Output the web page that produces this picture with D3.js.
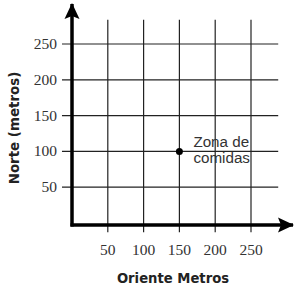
<!DOCTYPE html>
<html>
<head>
<meta charset="utf-8">
<script src="https://cdn.jsdelivr.net/npm/d3@7"></script>
<style>
  body { margin: 0; background: #fff; }
  svg { display: block; }
</style>
</head>
<body>
<div id="chart"></div>
<script>
const width = 294
const height = 288

const xTicks = [50, 100, 150, 200, 250]
const yTicks = [50, 100, 150, 200, 250]
const points = [{x: 150, y: 100, label: ['Zona de', 'comidas']}]
const xTitle = 'Oriente Metros'
const yTitle = 'Norte (metros)'

const x = d3.scaleLinear().domain([0, 250]).range([72, 251])
const y = d3.scaleLinear().domain([0, 250]).range([223, 44])

const svg = d3.select('#chart').append('svg')
  .attr('width', width)
  .attr('height', height)

// grid lines
svg.selectAll('.hgrid')
  .data(yTicks)
  .enter().append('line')
  .attr('x1', x(-14)).attr('x2', x(288))
  .attr('y1', d => y(d)).attr('y2', d => y(d))
  .attr('stroke', '#222').attr('stroke-width', 1.2)

svg.selectAll('.vgrid')
  .data(xTicks)
  .enter().append('line')
  .attr('x1', d => x(d)).attr('x2', d => x(d))
  .attr('y1', y(-13)).attr('y2', y(284))
  .attr('stroke', '#222').attr('stroke-width', 1.2)

// axes with arrows
svg.append('defs').append('marker')
  .attr('id', 'arrow')
  .attr('viewBox', '0 0 16 16')
  .attr('refX', 15).attr('refY', 8)
  .attr('markerUnits', 'userSpaceOnUse')
  .attr('markerWidth', 16).attr('markerHeight', 16)
  .attr('orient', 'auto')
  .append('path')
  .attr('d', 'M0,0.5 L16,8 L0,15.5 L3,8 Z')
  .attr('fill', '#000')

svg.append('line')
  .attr('x1', x(0) - 1.5).attr('x2', 293)
  .attr('y1', y(0) + 2).attr('y2', y(0) + 2)
  .attr('stroke', '#000').attr('stroke-width', 3.5)
  .attr('marker-end', 'url(#arrow)')

svg.append('line')
  .attr('x1', x(0)).attr('x2', x(0))
  .attr('y1', y(0) + 3.5).attr('y2', 4)
  .attr('stroke', '#000').attr('stroke-width', 3.5)
  .attr('marker-end', 'url(#arrow)')

// tick labels
svg.selectAll('.ylab')
  .data(yTicks)
  .enter().append('text')
  .attr('x', 57)
  .attr('y', d => y(d) + 5)
  .attr('text-anchor', 'end')
  .attr('font-family', 'Liberation Serif')
  .attr('font-size', 15.5)
  .attr('fill', '#333')
  .text(d => d)

svg.selectAll('.xlab')
  .data(xTicks)
  .enter().append('text')
  .attr('x', d => x(d))
  .attr('y', 255)
  .attr('text-anchor', 'middle')
  .attr('font-family', 'Liberation Serif')
  .attr('font-size', 15.5)
  .attr('fill', '#333')
  .text(d => d)

// titles
svg.append('text')
  .attr('x', 173).attr('y', 283)
  .attr('text-anchor', 'middle')
  .attr('font-family', 'DejaVu Sans')
  .attr('font-weight', 'bold')
  .attr('font-size', 13.2)
  .attr('fill', '#222')
  .text(xTitle)

svg.append('text')
  .attr('transform', 'translate(19,128) rotate(-90)')
  .attr('text-anchor', 'middle')
  .attr('font-family', 'DejaVu Sans')
  .attr('font-weight', 'bold')
  .attr('font-size', 13.4)
  .attr('fill', '#222')
  .text(yTitle)

// points
svg.selectAll('.pt')
  .data(points)
  .enter().append('circle')
  .attr('cx', d => x(d.x)).attr('cy', d => y(d.y))
  .attr('r', 3.5)
  .attr('fill', '#000')

const lab = svg.selectAll('.ptlab')
  .data(points)
  .enter().append('text')
  .attr('font-family', 'Liberation Sans')
  .attr('font-size', 15.2)
  .attr('fill', '#333')

lab.selectAll('tspan')
  .data(d => d.label.map((t, i) => ({t, i, d})))
  .enter().append('tspan')
  .attr('x', d => x(d.d.x) + 14)
  .attr('y', d => y(d.d.y) - 4 + d.i * 15.5)
  .text(d => d.t)
</script>
</body>
</html>
